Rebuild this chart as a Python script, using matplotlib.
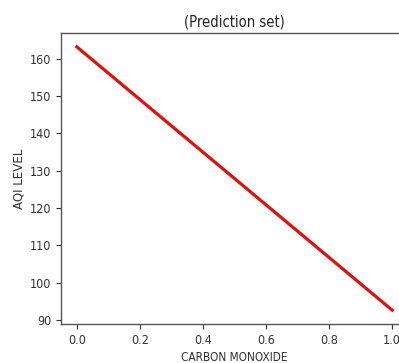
import matplotlib
matplotlib.use("Agg")
import matplotlib.pyplot as plt

# predicted AQI for carbon monoxide input
co_values = [0.0, 1.0]
aqi_pred = [163.2, 92.6]
xticks = [0.0, 0.2, 0.4, 0.6, 0.8, 1.0]
yticks = [90, 100, 110, 120, 130, 140, 150, 160]

plt.rcParams['font.family'] = ['DejaVu Sans']
plt.rcParams['font.stretch'] = 'condensed'

fig = plt.figure(figsize=(3.99, 3.63), dpi=100)
W, H = 399, 363
left, right, top, bottom = 61, 408, 33, 324
ax = fig.add_axes([left / W, 1 - bottom / H, (right - left) / W, (bottom - top) / H])

ax.plot(co_values, aqi_pred, color='#e01010', linewidth=2.3)
ax.set_xlim(-0.05, 1.05)
ax.set_ylim(88.9, 166.9)
ax.set_xticks(xticks)
ax.set_xticklabels(['0.0', '0.2', '0.4', '0.6', '0.8', '1.0'])
ax.set_yticks(yticks)
ax.tick_params(labelsize=9, colors='#333333', length=3.5)
for s in ax.spines.values():
    s.set_color('#555555')
    s.set_linewidth(1.0)

ax.set_title('(Prediction set)', fontsize=10.5, color='#222222', pad=5)
ax.set_xlabel('CARBON MONOXIDE', fontsize=8.5, color='#333333', labelpad=3)
ax.set_ylabel('AQI LEVEL', fontsize=9.5, color='#333333', labelpad=3)

fig.savefig('out.png', dpi=100)
